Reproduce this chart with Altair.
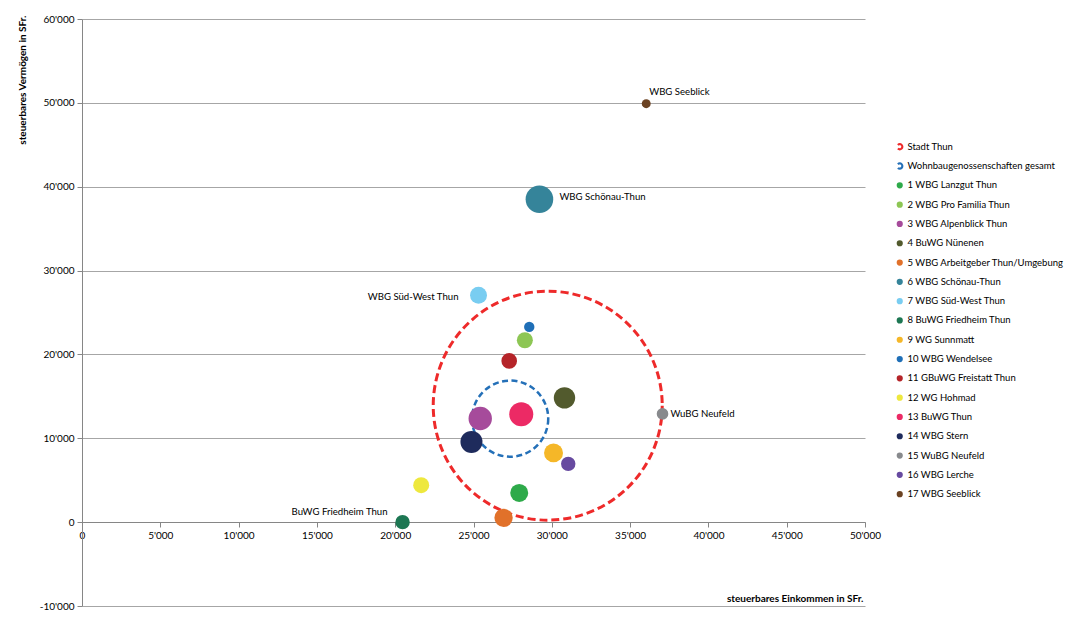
import altair as alt
import pandas as pd

FONT = "Lato"

names = [
    "Stadt Thun",
    "Wohnbaugenossenschaften gesamt",
    "1 WBG Lanzgut Thun",
    "2 WBG Pro Familia Thun",
    "3 WBG Alpenblick Thun",
    "4 BuWG Nünenen",
    "5 WBG Arbeitgeber Thun/Umgebung",
    "6 WBG Schönau-Thun",
    "7 WBG Süd-West Thun",
    "8 BuWG Friedheim Thun",
    "9 WG Sunnmatt",
    "10 WBG Wendelsee",
    "11 GBuWG Freistatt Thun",
    "12 WG Hohmad",
    "13 BuWG Thun",
    "14 WBG Stern",
    "15 WuBG Neufeld",
    "16 WBG Lerche",
    "17 WBG Seeblick",
]
einkommen = [29740, 27340, 27920, 28280, 25430, 30810, 26920, 29210, 25320, 20470,
             30110, 28560, 27280, 21660, 28050, 24870, 37070, 31050, 36030]
vermoegen = [13890, 12340, 3490, 21690, 12360, 14820, 510, 38500, 27060, 0,
             8260, 23280, 19230, 4410, 12870, 9570, 12910, 6950, 49900]
anzahl = [26220, 2900, 162, 128, 274, 229, 169, 381, 144, 104,
          180, 54, 122, 128, 288, 242, 67, 104, 40]
colors = ["#EE2A2A", "#2470B8", "#2EAA4A", "#8DC654", "#A64B9B", "#525A2D",
          "#E1712A", "#35849A", "#79CDF1", "#1D7753", "#F5B728", "#1F6FB7",
          "#B52429", "#EEE83E", "#EC2A65", "#1E2B5C", "#888A8D", "#674AA0",
          "#6B4222"]
kind = ["stadt", "gesamt"] + ["wbg"] * 17
beschriftung = ["", "", "", "", "", "", "", "WBG Schönau-Thun", "WBG Süd-West Thun",
                "BuWG Friedheim Thun", "", "", "", "", "", "", "WuBG Neufeld", "",
                "WBG Seeblick"]

df = pd.DataFrame({
    "name": names,
    "einkommen": einkommen,
    "vermoegen": vermoegen,
    "anzahl": anzahl,
    "kind": kind,
    "label": beschriftung,
})

C_PATH = ("M-0.85,-0.85A1.2,1.2,0,1,1,-0.85,0.85L-0.35,0.35"
          "A0.5,0.5,0,1,0,-0.35,-0.35Z")
shapes = [C_PATH, C_PATH] + ["circle"] * 17

fmt = "replace(replace(format(datum.value, ','), ',', \"'\"), '\u2212', '-')"

x_scale = alt.Scale(domain=[0, 50000], nice=False, zero=False)
y_scale = alt.Scale(domain=[-10000, 60000], nice=False, zero=False)
size_scale = alt.Scale(type="linear", domain=[0, 26220], range=[0, 52440])
color_scale = alt.Scale(domain=names, range=colors)
shape_scale = alt.Scale(domain=names, range=shapes)
ring_scale = alt.Scale(domain=names[:2], range=colors[:2])

x_axis = alt.Axis(
    values=list(range(0, 50001, 5000)), labelExpr=fmt, grid=False, offset=-84,
    domainColor="#868686", tickColor="#868686", tickSize=5, labelFlush=False,
    labelFont=FONT, labelFontSize=10, labelColor="#000", labelPadding=3,
    title="steuerbares Einkommen in SFr.", titleFont=FONT, titleFontSize=10,
    titleFontWeight="bold", titleColor="#000", titleAnchor="end", titleAlign="right",
    titleX=781, titleY=76, titleBaseline="middle",
)
y_axis = alt.Axis(
    values=list(range(-10000, 60001, 10000)), labelExpr=fmt, grid=True,
    gridColor="#A6A6A6", gridWidth=1, domainColor="#868686", tickColor="#868686",
    tickSize=5, labelFlush=False, labelFont=FONT, labelFontSize=10,
    labelColor="#000", labelPadding=3,
    title="steuerbares Vermögen in SFr.", titleFont=FONT, titleFontSize=10,
    titleFontWeight="bold", titleColor="#000", titleAngle=270, titleX=-60,
    titleY=-4, titleAlign="right", titleBaseline="middle",
)

legend = alt.Legend(
    title=None, orient="none", legendX=813, legendY=123, symbolSize=38,
    labelFont=FONT, labelFontSize=9.5, labelColor="#000", rowPadding=8.3,
    labelOffset=3, symbolStrokeWidth=0, padding=0, labelLimit=300,
)

base = alt.Chart(df).encode(
    x=alt.X("einkommen:Q", scale=x_scale, axis=x_axis),
    y=alt.Y("vermoegen:Q", scale=y_scale, axis=y_axis),
)

ring_stadt = base.transform_filter(alt.datum.kind == "stadt").mark_point(
    filled=False, strokeDash=[8, 4], strokeWidth=3, opacity=1
).encode(
    stroke=alt.Stroke("name:N", scale=ring_scale, legend=None),
    size=alt.Size("anzahl:Q", scale=size_scale, legend=None),
)
ring_gesamt = base.transform_filter(alt.datum.kind == "gesamt").mark_point(
    filled=False, strokeDash=[6, 3.5], strokeWidth=2.5, opacity=1
).encode(
    stroke=alt.Stroke("name:N", scale=ring_scale, legend=None),
    size=alt.Size("anzahl:Q", scale=size_scale, legend=None),
)
bubbles = base.transform_filter(alt.datum.kind == "wbg").mark_point(
    filled=True, opacity=1, strokeWidth=0
).encode(
    color=alt.Color("name:N", scale=color_scale, legend=legend),
    shape=alt.Shape("name:N", scale=shape_scale, legend=legend),
    size=alt.Size("anzahl:Q", scale=size_scale, legend=None),
)


def label_layer(name, dx, dy, align):
    return base.transform_filter(alt.datum.label == name).mark_text(
        font=FONT, fontSize=9.6, color="#000", align=align, baseline="middle",
        dx=dx, dy=dy,
    ).encode(text="label:N")


labels = [
    label_layer("WBG Seeblick", 3, -11.5, "left"),
    label_layer("WBG Schönau-Thun", 20, -2, "left"),
    label_layer("WBG Süd-West Thun", -20, 1.5, "right"),
    label_layer("WuBG Neufeld", 8, 0, "left"),
    label_layer("BuWG Friedheim Thun", -15, -10, "right"),
]

chart = alt.layer(ring_stadt, ring_gesamt, bubbles, *labels).properties(
    width=783, height=587,
    autosize=alt.AutoSizeParams(type="none"),
    padding={"left": 74, "top": 11, "right": 202, "bottom": 13},
).configure_view(strokeWidth=0)

chart.save("out.html", embed_options={"renderer": "svg", "actions": False})
